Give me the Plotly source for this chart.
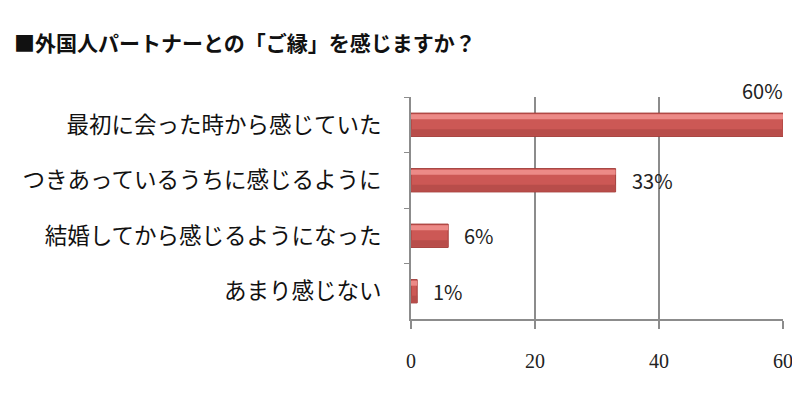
import plotly.graph_objects as go

categories = ["最初に会った時から感じていた", "つきあっているうちに感じるように", "結婚してから感じるようになった", "あまり感じない"]
values = [60, 33, 6, 1]
tick_vals = [0, 20, 40, 60]
title_text = "■外国人パートナーとの「ご縁」を感じますか？"

jp = "Noto Sans CJK JP"

fig = go.Figure()
# base bar
fig.add_trace(go.Bar(
    y=categories, x=values, orientation="h", width=0.42, offset=-0.21,
    marker=dict(color="#CC5855", line=dict(color="#A23E3B", width=1)),
    hoverinfo="skip",
))
# darker lower band (bevel look)
fig.add_trace(go.Bar(
    y=categories, x=values, orientation="h", width=0.12, offset=0.08,
    marker=dict(color="#B84D4A", line=dict(width=0)),
    hoverinfo="skip",
))
# light upper band (bevel look)
fig.add_trace(go.Bar(
    y=categories, x=values, orientation="h", width=0.09, offset=-0.19,
    marker=dict(color="#EC8A87", line=dict(width=0)),
    hoverinfo="skip",
))

annotations = []
for c, v in zip(categories, values):
    if v >= 60:
        annotations.append(dict(x=v, y=c, xref="x", yref="y", text=f"{v}%", showarrow=False,
                                 xanchor="right", yanchor="bottom", xshift=2, yshift=18,
                                 font=dict(family=jp, size=20, color="#222")))
    else:
        annotations.append(dict(x=v, y=c, xref="x", yref="y", text=f"{v}%", showarrow=False,
                                 xanchor="left", yanchor="middle", xshift=14,
                                 font=dict(family=jp, size=20, color="#222")))

fig.update_layout(
    width=800, height=400,
    margin=dict(l=403, r=25, t=89, b=89, autoexpand=False),
    paper_bgcolor="white", plot_bgcolor="white",
    barmode="overlay", showlegend=False,
    title=dict(text="<b>" + title_text + "</b>", x=6/800, xanchor="left", xref="container",
               y=1-36/400, yanchor="middle", yref="container",
               font=dict(family=jp, size=21, color="#111")),
    annotations=annotations,
)
fig.update_xaxes(range=[0, 60], tickvals=tick_vals, showgrid=True, gridcolor="#8C8C8C", gridwidth=2,
                 showline=True, linecolor="#8C8C8C", linewidth=2, ticks="outside", ticklen=8,
                 tickcolor="#8C8C8C", tickwidth=2, zeroline=False, ticklabelstandoff=15,
                 automargin=False,
                 tickfont=dict(family="Liberation Serif", size=20, color="#222"))
fig.update_yaxes(autorange="reversed", showline=True, linecolor="#8C8C8C", linewidth=2,
                 ticks="outside", ticklen=5, tickcolor="#8C8C8C", tickwidth=1, tickson="boundaries",
                 showgrid=False, ticklabelstandoff=23, automargin=False,
                 tickfont=dict(family=jp, size=22.5, color="#111"))

fig.write_html("out.html")
